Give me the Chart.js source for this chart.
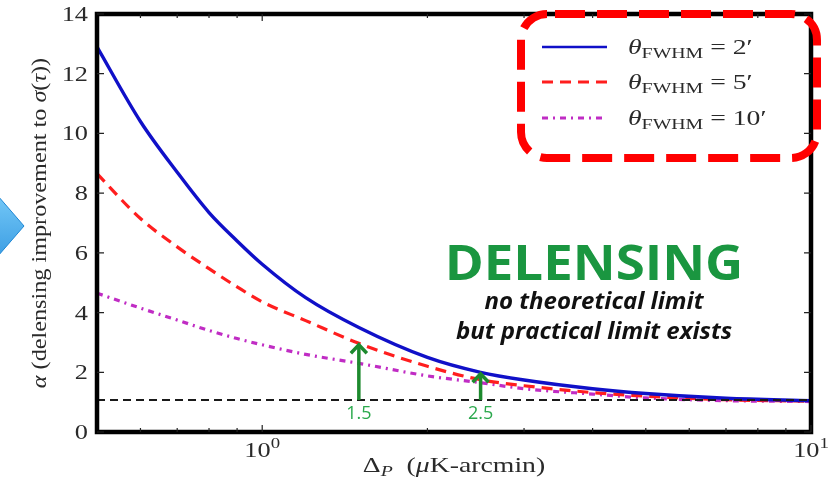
<!DOCTYPE html>
<html>
<head>
<meta charset="utf-8">
<script src="https://cdn.jsdelivr.net/npm/chart.js@4.4.1/dist/chart.umd.min.js"></script>
<style>
  html, body { margin: 0; padding: 0; background: #fff; }
  canvas { display: block; }
</style>
</head>
<body>
<canvas id="chart" width="840" height="489"></canvas>
<script>
// Polarization noise level Delta_P (uK-arcmin)
const noiseLevels = [0.5, 0.6, 0.7, 0.8, 0.9, 1.0, 1.2, 1.5, 2.0, 2.5, 3.0, 4.0, 5.0, 7.0, 10.0];
// Delensing improvement factor alpha for each beam size
const alphaFwhm2  = [12.9, 10.4, 8.7, 7.35, 6.4, 5.62, 4.5, 3.5, 2.5, 2.0, 1.74, 1.45, 1.29, 1.13, 1.05];
const alphaFwhm5  = [8.65, 7.15, 6.2, 5.47, 4.86, 4.36, 3.73, 2.97, 2.2, 1.75, 1.55, 1.32, 1.2, 1.08, 1.03];
const alphaFwhm10 = [4.65, 4.15, 3.75, 3.4, 3.13, 2.92, 2.6, 2.3, 1.88, 1.65, 1.45, 1.27, 1.14, 1.05, 1.02];
const beamLabels = ['2\u2032', '5\u2032', '10\u2032'];
// reference level with no delensing gain
const baselineAlpha = 1.07;
// marked noise levels and the curve each arrow points to
const arrowLevels = [1.5, 2.5];
const arrowCurves = [alphaFwhm5, alphaFwhm2];
const arrowLabels = ['1.5', '2.5'];
const yTickValues = [0, 2, 4, 6, 8, 10, 12, 14];
const xMajorTicks = [{ value: 1, exp: '0' }, { value: 10, exp: '1' }];
const xMinorTicks = [0.6, 0.7, 0.8, 0.9, 2, 3, 4, 5, 6, 7, 8, 9];

const SERIF = '"Liberation Serif", "DejaVu Serif", serif';
const SANS = '"Open Sans", "Lato", sans-serif';
const WIDE = 1.32; // horizontal widening of the math-style labels

const COLORS = { blue: '#1010c8', red: '#ff1e1e', magenta: '#c02cc4', green: '#1d8a2e', label: '#2aa84c' };
const STYLES = [
  { color: COLORS.blue, dash: [], width: 3.4 },
  { color: COLORS.red, dash: [11, 7], width: 3.2 },
  { color: COLORS.magenta, dash: [6, 5, 2, 5], width: 3.2 }
];

const toPoints = ys => noiseLevels.map((x, i) => ({ x, y: ys[i] }));

// Draws a run of text pieces (each with its own size / style / baseline shift)
function drawRun(ctx, parts, x, y, align, sx) {
  let total = 0;
  const widths = parts.map(p => {
    ctx.font = `${p.italic ? 'italic ' : ''}${p.size}px ${p.family || SERIF}`;
    const w = ctx.measureText(p.text).width * sx;
    total += w;
    return w;
  });
  let cx = align === 'center' ? x - total / 2 : align === 'right' ? x - total : x;
  parts.forEach((p, i) => {
    ctx.font = `${p.italic ? 'italic ' : ''}${p.size}px ${p.family || SERIF}`;
    ctx.save();
    ctx.translate(cx, y + (p.dy || 0));
    ctx.scale(sx, 1);
    ctx.textAlign = 'left';
    ctx.textBaseline = 'alphabetic';
    ctx.fillText(p.text, 0, 0);
    ctx.restore();
    cx += widths[i];
  });
}

function roundRectPath(ctx, x, y, w, h, r) {
  ctx.beginPath();
  ctx.moveTo(x + r, y);
  ctx.lineTo(x + w - r, y);
  ctx.arcTo(x + w, y, x + w, y + r, r);
  ctx.lineTo(x + w, y + h - r);
  ctx.arcTo(x + w, y + h, x + w - r, y + h, r);
  ctx.lineTo(x + r, y + h);
  ctx.arcTo(x, y + h, x, y + h - r, r);
  ctx.lineTo(x, y + r);
  ctx.arcTo(x, y, x + r, y, r);
  ctx.closePath();
}

const decorations = {
  id: 'decorations',
  afterDatasetsDraw(chart) {
    const { ctx, chartArea: a, scales: { x: xs, y: ys } } = chart;
    ctx.save();

    // axes frame
    ctx.strokeStyle = '#000';
    ctx.lineWidth = 4.5;
    ctx.strokeRect(a.left, a.top, a.right - a.left, a.bottom - a.top);

    // inward tick marks
    ctx.lineWidth = 1.2;
    ctx.strokeStyle = '#222';
    ctx.beginPath();
    yTickValues.forEach(v => {
      const py = ys.getPixelForValue(v);
      ctx.moveTo(a.left, py); ctx.lineTo(a.left + 7, py);
      ctx.moveTo(a.right, py); ctx.lineTo(a.right - 7, py);
    });
    xMajorTicks.forEach(t => {
      const px = xs.getPixelForValue(t.value);
      ctx.moveTo(px, a.bottom); ctx.lineTo(px, a.bottom - 7);
      ctx.moveTo(px, a.top); ctx.lineTo(px, a.top + 7);
    });
    xMinorTicks.forEach(v => {
      const px = xs.getPixelForValue(v);
      ctx.moveTo(px, a.bottom); ctx.lineTo(px, a.bottom - 4);
      ctx.moveTo(px, a.top); ctx.lineTo(px, a.top + 4);
    });
    ctx.stroke();

    // tick labels
    ctx.fillStyle = '#2a2a2a';
    yTickValues.forEach(v => {
      const py = ys.getPixelForValue(v);
      drawRun(ctx, [{ text: String(v), size: 21 }], a.left - 9, py + 7, 'right', WIDE * 0.95);
    });
    xMajorTicks.forEach(t => {
      const px = xs.getPixelForValue(t.value);
      drawRun(ctx, [{ text: '10', size: 21 }, { text: t.exp, size: 15, dy: -9 }], px, a.bottom + 25, 'center', WIDE * 0.95);
    });

    // axis titles
    drawRun(ctx, [
      { text: '\u0394', size: 21 },
      { text: 'P', size: 15, italic: true, dy: 4 },
      { text: '  (', size: 21 },
      { text: '\u03bc', size: 21, italic: true },
      { text: 'K-arcmin)', size: 21 }
    ], (a.left + a.right) / 2, 472, 'center', WIDE);

    ctx.save();
    ctx.translate(46, (a.top + a.bottom) / 2);
    ctx.rotate(-Math.PI / 2);
    drawRun(ctx, [
      { text: '\u03b1', size: 22, italic: true },
      { text: ' (delensing improvement to ', size: 22 },
      { text: '\u03c3', size: 22, italic: true },
      { text: '(', size: 22 },
      { text: '\u03c4', size: 22, italic: true },
      { text: '))', size: 22 }
    ], 0, 0, 'center', 1.1);
    ctx.restore();

    // arrows marking the chosen noise levels
    const yBase = ys.getPixelForValue(baselineAlpha);
    arrowLevels.forEach((lvl, i) => {
      const px = xs.getPixelForValue(lvl);
      const tipVal = arrowCurves[i][noiseLevels.indexOf(lvl)];
      const pt = ys.getPixelForValue(tipVal);
      ctx.strokeStyle = COLORS.green;
      ctx.lineWidth = 3.5;
      ctx.lineCap = 'butt';
      ctx.beginPath();
      ctx.moveTo(px, yBase);
      ctx.lineTo(px, pt + 2);
      ctx.stroke();
      ctx.lineJoin = 'miter';
      ctx.beginPath();
      ctx.moveTo(px - 8, pt + 10);
      ctx.lineTo(px, pt + 1.5);
      ctx.lineTo(px + 8, pt + 10);
      ctx.stroke();
      ctx.fillStyle = COLORS.label;
      ctx.font = `18px ${SANS}`;
      ctx.textAlign = 'center';
      ctx.textBaseline = 'alphabetic';
      ctx.fillText(arrowLabels[i], px, 419);
    });

    // annotation text
    ctx.textAlign = 'center';
    ctx.fillStyle = '#1a9640';
    ctx.font = `bold 48px ${SANS}`;
    ctx.save();
    ctx.translate(594, 280);
    ctx.scale(1.1, 1);
    ctx.fillText('DELENSING', 0, 0);
    ctx.restore();
    ctx.fillStyle = '#111';
    ctx.font = `italic bold 24px ${SANS}`;
    ctx.fillText('no theoretical limit', 594, 309);
    ctx.fillText('but practical limit exists', 594, 339);

    // legend
    const rows = [47, 82, 118];
    rows.forEach((ry, i) => {
      ctx.strokeStyle = STYLES[i].color;
      ctx.lineWidth = i === 0 ? 2.5 : 3;
      ctx.setLineDash(STYLES[i].dash);
      ctx.beginPath();
      ctx.moveTo(542, ry);
      ctx.lineTo(607, ry);
      ctx.stroke();
      ctx.setLineDash([]);
      ctx.fillStyle = '#2a2a2a';
      drawRun(ctx, [
        { text: '\u03b8', size: 21, italic: true },
        { text: 'FWHM', size: 15, dy: 4 },
        { text: ' = ', size: 21 },
        { text: beamLabels[i], size: 21 }
      ], 628, ry + 7, 'left', WIDE);
    });

    // highlight box around the legend
    ctx.strokeStyle = '#ff0000';
    ctx.lineWidth = 8;
    ctx.setLineDash([30, 12]);
    ctx.lineDashOffset = -8;
    roundRectPath(ctx, 521, 14, 296, 144, 26);
    ctx.stroke();
    ctx.setLineDash([]);

    // slide pointer at the left edge
    const g = ctx.createLinearGradient(0, 195, 0, 258);
    g.addColorStop(0, '#74c8f7');
    g.addColorStop(1, '#3b9de3');
    ctx.fillStyle = g;
    ctx.strokeStyle = '#1f87d4';
    ctx.lineWidth = 1;
    ctx.beginPath();
    ctx.moveTo(-2, 196);
    ctx.lineTo(24, 226);
    ctx.lineTo(-2, 256);
    ctx.closePath();
    ctx.fill();
    ctx.stroke();

    ctx.restore();
  }
};

const curveStyle = i => ({
  borderColor: STYLES[i].color,
  borderDash: STYLES[i].dash,
  borderWidth: STYLES[i].width,
  pointRadius: 0,
  fill: false,
  tension: 0.4,
  cubicInterpolationMode: 'monotone'
});

new Chart(document.getElementById('chart'), {
  type: 'line',
  data: {
    datasets: [
      {
        label: 'no delensing',
        data: [{ x: 0.5, y: baselineAlpha }, { x: 10, y: baselineAlpha }],
        borderColor: '#1a1a1a',
        borderDash: [8, 5],
        borderWidth: 2,
        pointRadius: 0
      },
      { label: '\u03b8FWHM = ' + beamLabels[0], data: toPoints(alphaFwhm2), ...curveStyle(0) },
      { label: '\u03b8FWHM = ' + beamLabels[1], data: toPoints(alphaFwhm5), ...curveStyle(1) },
      { label: '\u03b8FWHM = ' + beamLabels[2], data: toPoints(alphaFwhm10), ...curveStyle(2) }
    ]
  },
  options: {
    responsive: false,
    animation: false,
    layout: { padding: { top: 14, right: 29, left: 0, bottom: 0 } },
    plugins: { legend: { display: false }, tooltip: { enabled: false } },
    scales: {
      x: {
        type: 'logarithmic', min: 0.5, max: 10,
        grid: { display: false }, border: { display: false },
        ticks: { display: false },
        afterFit(s) { s.height = 57; }
      },
      y: {
        type: 'linear', min: 0, max: 14,
        grid: { display: false }, border: { display: false },
        ticks: { display: false, stepSize: 2 },
        afterFit(s) { s.width = 97; }
      }
    }
  },
  plugins: [decorations]
});
</script>
</body>
</html>
